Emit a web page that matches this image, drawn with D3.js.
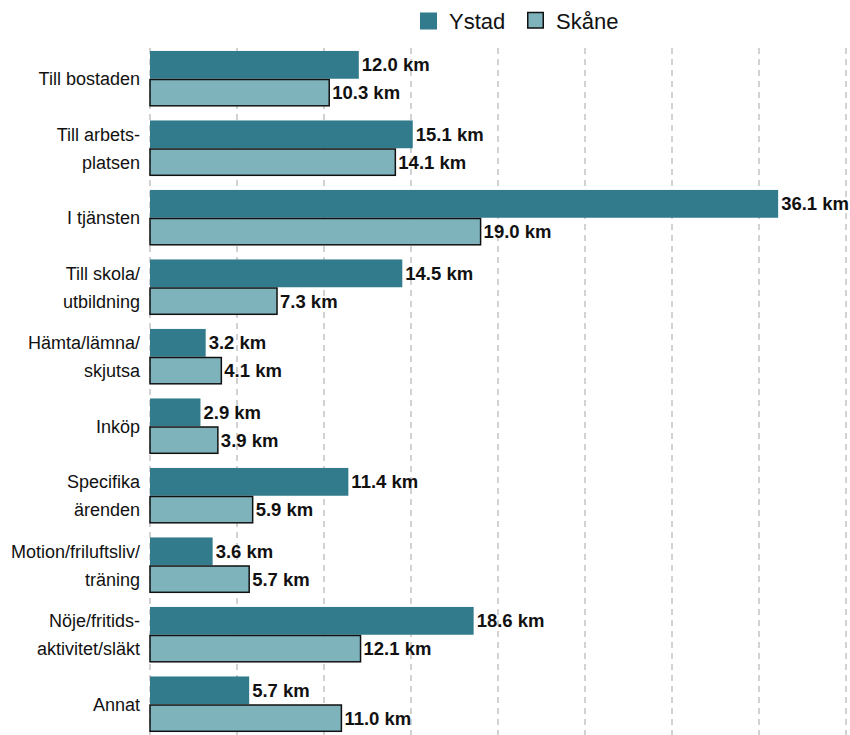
<!DOCTYPE html>
<html><head><meta charset="utf-8">
<script src="https://cdn.jsdelivr.net/npm/d3@7"></script>
<style>body{margin:0;background:#fff}svg{display:block;font-family:"Liberation Sans",Arial,sans-serif}</style>
</head><body><svg id="c" width="850" height="735"></svg>
<script>
const categories = [["Till bostaden"],["Till arbets-","platsen"],["I tjänsten"],["Till skola/","utbildning"],["Hämta/lämna/","skjutsa"],["Inköp"],["Specifika","ärenden"],["Motion/friluftsliv/","träning"],["Nöje/fritids-","aktivitet/släkt"],["Annat"]];
const seriesNames = ["Ystad","Skåne"];
const ystad = [12.0,15.1,36.1,14.5,3.2,2.9,11.4,3.6,18.6,5.7];
const skane = [10.3,14.1,19.0,7.3,4.1,3.9,5.9,5.7,12.1,11.0];
const xTicks = [0,5,10,15,20,25,30,35,40];
const colors = ["#317b8c","#7fb3bc"];

const svg = d3.select("#c");
const keys = categories.map(c=>c.join(" "));
const x = d3.scaleLinear().domain([0,40]).range([150,846]);
const y = d3.scaleBand().domain(keys).range([44,739]).paddingInner(0.2).paddingOuter(0.1);
const y1 = d3.scaleBand().domain(seriesNames).range([0,y.bandwidth()]);

// grid
svg.append("g").selectAll("line").data(xTicks).join("line")
  .attr("x1",d=>x(d)).attr("x2",d=>x(d)).attr("y1",48).attr("y2",735)
  .attr("stroke","#c4c4c4").attr("stroke-width",1.5).attr("stroke-dasharray","6,5");

const data = keys.map((k,i)=>({k, vals:[ystad[i],skane[i]]}));
const g = svg.append("g").selectAll("g").data(data).join("g")
  .attr("transform",d=>`translate(0,${y(d.k)})`);
g.selectAll("rect").data(d=>d.vals.map((v,j)=>({v,s:seriesNames[j],j}))).join("rect")
  .attr("x",x(0)).attr("y",d=>y1(d.s)+(d.j?0.75:0))
  .attr("width",d=>x(d.v)-x(0)).attr("height",d=>y1.bandwidth()-(d.j?1.5:0))
  .attr("fill",d=>colors[d.j])
  .attr("stroke",d=>d.j?"#111":"none").attr("stroke-width",1.5);
g.selectAll("text").data(d=>d.vals.map((v,j)=>({v,s:seriesNames[j],j}))).join("text")
  .attr("x",d=>x(d.v)+3).attr("y",d=>y1(d.s)+y1.bandwidth()/2)
  .attr("dy","0.35em").attr("font-size",18.5).attr("font-weight","bold").attr("fill","#111")
  .text(d=>d.v.toFixed(1)+" km");

// category labels
const yAxis = d3.axisLeft(y).tickSize(0).tickPadding(10).tickFormat("");
const ax = svg.append("g").attr("transform",`translate(${x(0)},0)`).call(yAxis);
ax.select(".domain").remove();
ax.selectAll(".tick").each(function(d,i){
  const lines = categories[i];
  const t = d3.select(this).append("text").attr("x",-10).attr("text-anchor","end")
    .attr("font-size",18).attr("fill","#111");
  const lh = 28;
  lines.forEach((l,li)=>{
    t.append("tspan").attr("x",-10).attr("y",(li-(lines.length-1)/2)*lh).attr("dy","0.35em").text(l);
  });
});

// legend
const leg = svg.append("g");
const lx = [420,527];
seriesNames.forEach((s,j)=>{
  leg.append("rect").attr("x",lx[j]+(j?0.75:0)).attr("y",12.5).attr("width",j?15.5:17).attr("height",j?15.5:17)
    .attr("fill",colors[j]).attr("stroke",j?"#111":"none").attr("stroke-width",1.5);
  leg.append("text").attr("x",lx[j]+29).attr("y",21).attr("dy","0.35em")
    .attr("font-size",22).attr("fill","#111").text(s);
});
</script></body></html>
